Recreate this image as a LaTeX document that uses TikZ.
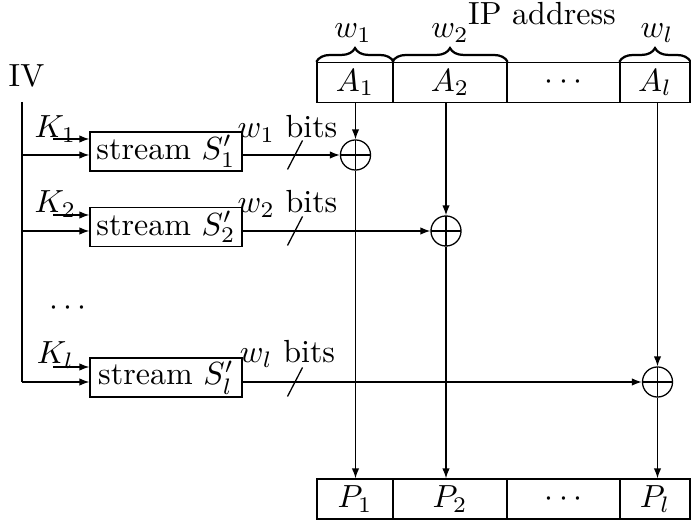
\documentclass[tikz,border=0pt]{standalone}
\usetikzlibrary{decorations.pathreplacing,arrows.meta}
\begin{document}
\begin{tikzpicture}[x=0.3125pt,y=-0.3125pt,
  cell/.style={draw, minimum height=12.5pt, inner sep=0pt},
  streambox/.style={draw, minimum width=47.5pt, minimum height=12.2pt, inner sep=0pt},
  xorop/.style={draw, circle, minimum size=9.4pt, inner sep=0pt,
    path picture={\draw (path picture bounding box.north) -- (path picture bounding box.south)
      (path picture bounding box.west) -- (path picture bounding box.east);}},
  arr/.style={-{Latex[length=3.1pt,width=2.3pt]}},
  lbl/.style={anchor=base, inner sep=0pt},
  brc/.style={decorate, decoration={brace, amplitude=4.3pt}, line width=0.7pt}
]
\useasboundingbox (0,0) rectangle (691,520);

% IP address cells
\node[cell, minimum width=23.75pt]   (A1) at (355,82.5)  {$A_1$};
\node[cell, minimum width=35.625pt]  (A2) at (450,82.5)  {$A_2$};
\node[cell, minimum width=35.3125pt] (Ad) at (563.5,82.5) {$\cdots$};
\node[cell, minimum width=21.875pt]  (Al) at (655,82.5)  {$A_l$};

% output cells
\node[cell, minimum width=23.75pt]   (P1) at (355,499)  {$P_1$};
\node[cell, minimum width=35.625pt]  (P2) at (450,499)  {$P_2$};
\node[cell, minimum width=35.3125pt] (Pd) at (563.5,499) {$\cdots$};
\node[cell, minimum width=21.875pt]  (Pl) at (655,499)  {$P_l$};

% braces and labels
\draw[brc] (A1.north west) -- (A1.north east);
\draw[brc] (A2.north west) -- (A2.north east);
\draw[brc] (Al.north west) -- (Al.north east);
\node[lbl] (w1) at (353,38) {$w_1$};
\node[lbl] (w2) at (450,38) {$w_2$};
\node[lbl] (wl) at (657,38) {$w_l$};
\node[lbl] (ip) at (542,25) {IP address};

% IV
\node[lbl] (IV) at (26.5,87) {IV};
\coordinate (ivtop) at (22,102);
\coordinate (ivbot) at (22,382);
\draw (ivtop) -- (ivbot);

% stream boxes
\node[streambox] (S1) at (166,151.5) {stream $S'_1$};
\node[streambox] (S2) at (166,227)   {stream $S'_2$};
\node[streambox] (Sl) at (166,377.5) {stream $S'_l$};

% xors
\node[xorop] (x1) at (355.5,155) {};
\node[xorop] (x2) at (446,231) {};
\node[xorop] (xl) at (657.5,382) {};

% key arrows
\coordinate (k1) at (53,139);
\coordinate (k2) at (53,215);
\coordinate (kl) at (53,367);
\draw[arr] (k1) -- (S1.west |- k1);
\draw[arr] (k2) -- (S2.west |- k2);
\draw[arr] (kl) -- (Sl.west |- kl);
\node[lbl] (K1) at (55.5,138) {$K_1$};
\node[lbl] (K2) at (55.5,213) {$K_2$};
\node[lbl] (Kl) at (55.5,364) {$K_l$};

% IV arrows
\draw[arr] (ivtop |- x1) -- (S1.west |- x1);
\draw[arr] (ivtop |- x2) -- (S2.west |- x2);
\draw[arr] (ivbot) -- (Sl.west |- xl);

% stream outputs
\draw[arr] (S1.east |- x1) -- (x1.west);
\draw[arr] (S2.east |- x2) -- (x2.west);
\draw[arr] (Sl.east |- xl) -- (xl.west);
\node[lbl] (b1) at (287.5,138) {$w_1$ bits};
\node[lbl] (b2) at (287.5,212.5) {$w_2$ bits};
\node[lbl] (bl) at (287.5,363) {$w_l$ bits};

% slashes
\coordinate (t1) at (295,155);
\coordinate (t2) at (295,231);
\coordinate (tl) at (295,382);
\draw ([shift={(-7.5,14.5)}]t1) -- ([shift={(7.5,-14.5)}]t1);
\draw ([shift={(-7.5,14.5)}]t2) -- ([shift={(7.5,-14.5)}]t2);
\draw ([shift={(-7.5,14.5)}]tl) -- ([shift={(7.5,-14.5)}]tl);

% vertical flows
\draw[arr] (x1 |- A1.south) -- (x1.north);
\draw[arr] (x2 |- A2.south) -- (x2.north);
\draw[arr] (xl |- Al.south) -- (xl.north);
\draw[arr] (x1.south) -- (x1 |- P1.north);
\draw[arr] (x2.south) -- (x2 |- P2.north);
\draw[arr] (xl.south) -- (xl |- Pl.north);

% dots
\node[lbl] (dots) at (68,316) {$\cdots$};
\end{tikzpicture}
\end{document}
